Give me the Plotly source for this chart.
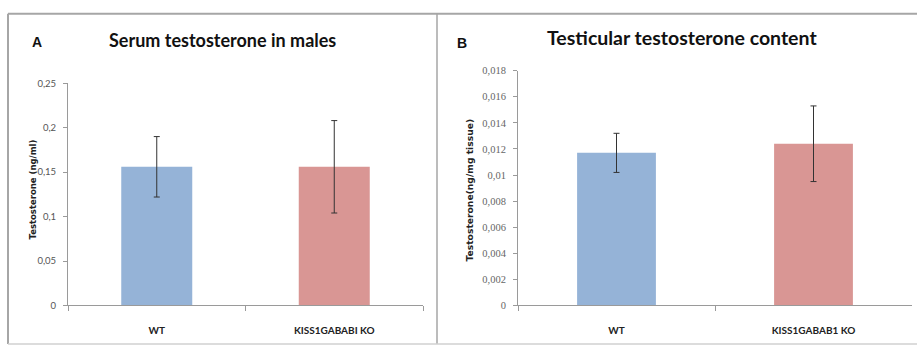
import plotly.graph_objects as go

W, H = 917, 352

# ---- data ----
categories_a = ["WT", "KISS1GABABI KO"]
serum_mean = [0.156, 0.156]
serum_err = [0.034, 0.052]

categories_b = ["WT", "KISS1GABAB1 KO"]
testis_mean = [0.0117, 0.0124]
testis_err = [0.0015, 0.0029]

ticks_a = [0, 0.05, 0.1, 0.15, 0.2, 0.25]
ticktext_a = ["0", "0,05", "0,1", "0,15", "0,2", "0,25"]
ticks_b = [0, 0.002, 0.004, 0.006, 0.008, 0.01, 0.012, 0.014, 0.016, 0.018]
ticktext_b = ["0", "0,002", "0,004", "0,006", "0,008", "0,01", "0,012", "0,014", "0,016", "0,018"]

bar_colors = ["#95B3D7", "#D99694"]


def px(x):
    return x / W


def py(y):
    return 1 - y / H


fig = go.Figure()

fig.add_trace(go.Bar(
    x=categories_a, y=serum_mean, width=0.4,
    marker=dict(color=bar_colors, line=dict(width=0)),
    error_y=dict(type="data", array=serum_err, color="#333333", thickness=1, width=3),
    xaxis="x", yaxis="y", showlegend=False,
))
fig.add_trace(go.Bar(
    x=categories_b, y=testis_mean, width=0.4,
    marker=dict(color=bar_colors, line=dict(width=0)),
    error_y=dict(type="data", array=testis_err, color="#333333", thickness=1, width=3),
    xaxis="x2", yaxis="y2", showlegend=False,
))

axis_col = "#9A9A9A"
xcommon = dict(type="category", range=[-0.5, 1.5], showline=True, linecolor=axis_col,
               linewidth=1, ticks="outside", tickson="boundaries", ticklen=5,
               tickcolor=axis_col, showgrid=False, zeroline=False,
               tickfont=dict(family="Lato", size=10, color="#222222", weight="bold"),
               ticklabelstandoff=16, fixedrange=True)
ycommon = dict(showline=True, linecolor=axis_col, linewidth=1, ticks="outside",
               ticklen=4, tickcolor=axis_col, showgrid=False, zeroline=False,
               ticklabelstandoff=5, fixedrange=True)

fig.update_layout(
    width=W, height=H,
    margin=dict(l=0, r=0, t=0, b=0),
    paper_bgcolor="white", plot_bgcolor="white",
    xaxis=dict(domain=[px(68), px(423)], anchor="y", **xcommon),
    yaxis=dict(domain=[py(310), py(80)], anchor="x", range=[0, 0.25],
               tickvals=ticks_a, ticktext=ticktext_a,
               tickfont=dict(family="Lato", size=9.5, color="#555555"),
               **ycommon),
    xaxis2=dict(domain=[px(518), px(912)], anchor="y2", **xcommon),
    yaxis2=dict(domain=[py(310), py(67)], anchor="x2", range=[0, 0.018],
                tickvals=ticks_b, ticktext=ticktext_b,
                tickfont=dict(family="Liberation Serif", size=10.5, color="#666666"),
                **ycommon),
)

ann = []
ann.append(dict(text="<b>Serum testosterone in males</b>", x=px(222), y=py(35),
                xref="paper", yref="paper", showarrow=False,
                font=dict(family="Lato", size=18, color="#111111"),
                xanchor="center", yanchor="middle"))
ann.append(dict(text="<b>Testicular testosterone content</b>", x=px(682), y=py(33),
                xref="paper", yref="paper", showarrow=False,
                font=dict(family="Lato", size=19.5, color="#111111"),
                xanchor="center", yanchor="middle"))
ann.append(dict(text="<b>A</b>", x=px(37), y=py(37), xref="paper", yref="paper",
                showarrow=False, font=dict(family="Liberation Sans", size=14, color="#111111"),
                xanchor="center", yanchor="middle"))
ann.append(dict(text="<b>B</b>", x=px(462), y=py(38), xref="paper", yref="paper",
                showarrow=False, font=dict(family="Liberation Sans", size=14, color="#111111"),
                xanchor="center", yanchor="middle"))
ann.append(dict(text="<b>Testosterone (ng/ml)</b>", x=px(33), y=py(190), xref="paper",
                yref="paper", showarrow=False, textangle=-90,
                font=dict(family="DejaVu Sans", size=8.5, color="#222222"),
                xanchor="center", yanchor="middle"))
ann.append(dict(text="<b>Testosterone(ng/mg tissue)</b>", x=px(470), y=py(190),
                xref="paper", yref="paper", showarrow=False, textangle=-90,
                font=dict(family="DejaVu Sans", size=9.2, color="#222222"),
                xanchor="center", yanchor="middle"))
fig.update_layout(annotations=ann)

line_col = "#A6A6A6"
shapes = [
    dict(type="line", xref="paper", yref="paper", x0=px(8), x1=1, y0=py(8), y1=py(8),
         line=dict(color=line_col, width=2)),
    dict(type="line", xref="paper", yref="paper", x0=px(8), x1=px(8), y0=py(8), y1=py(350),
         line=dict(color=line_col, width=2)),
    dict(type="line", xref="paper", yref="paper", x0=px(437), x1=px(437), y0=py(8), y1=py(350),
         line=dict(color=line_col, width=1.5)),
    dict(type="line", xref="paper", yref="paper", x0=px(8), x1=1, y0=py(350), y1=py(350),
         line=dict(color="#D0D0D0", width=1.5)),
]
fig.update_layout(shapes=shapes)

fig.write_html("out.html")
